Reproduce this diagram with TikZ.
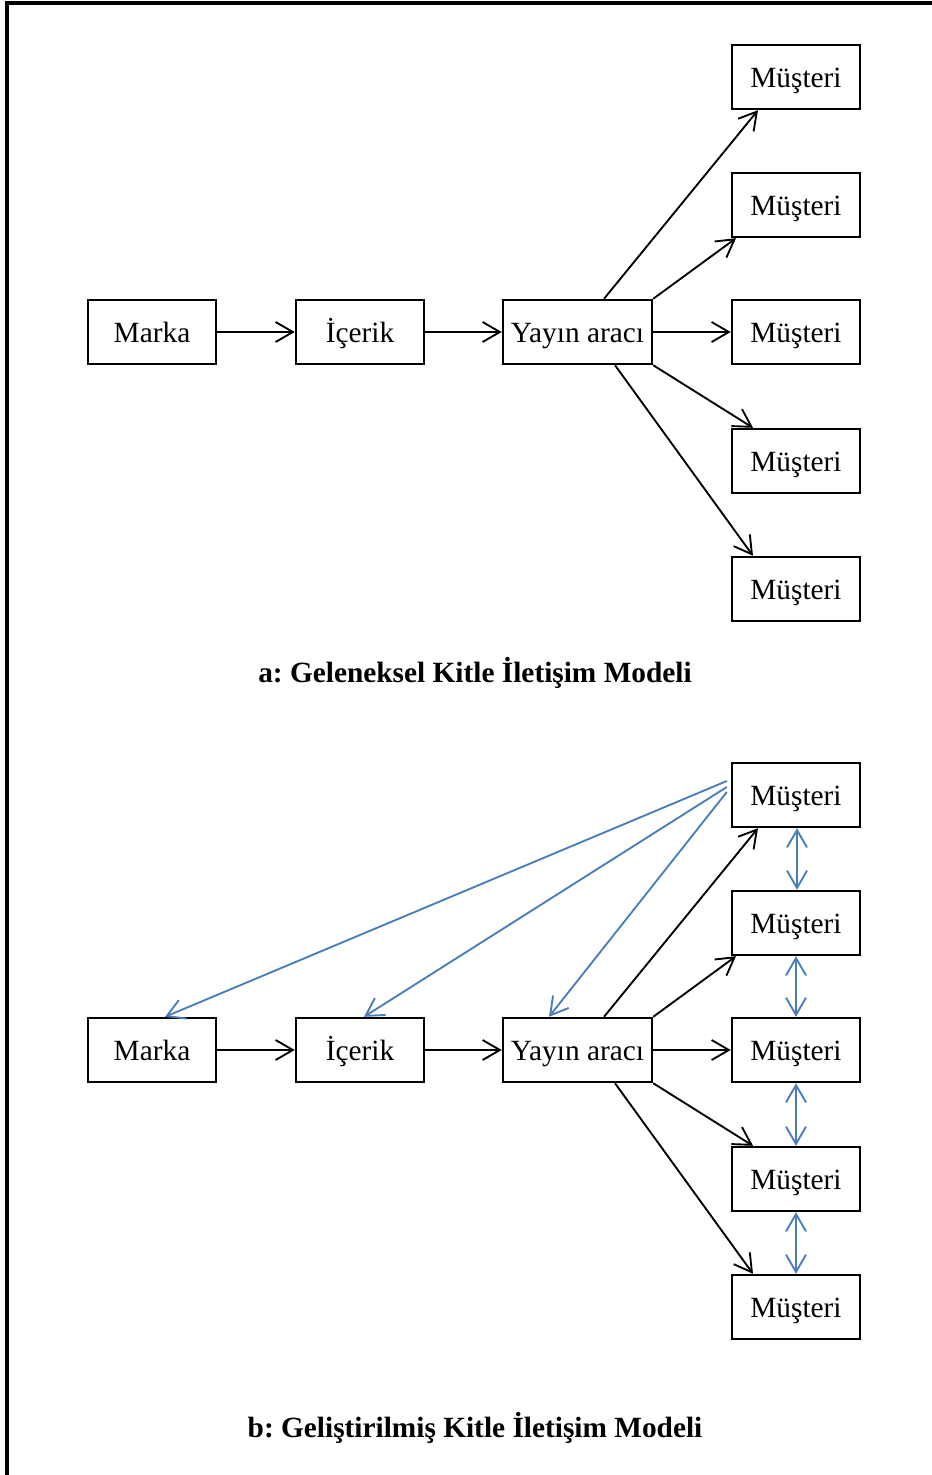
\documentclass[tikz,border=0pt]{standalone}
\usepackage{fontspec}
\setmainfont{Liberation Serif}
\usetikzlibrary{arrows.meta,calc}
\definecolor{linkblue}{RGB}{74,126,187}
\frenchspacing
\begin{document}
\begin{tikzpicture}[x=0.75pt,y=-0.75pt,
  box/.style={draw,line width=1.8pt,minimum width=96pt,minimum height=48pt,inner sep=0pt,
    text height=15pt,text depth=0pt,font=\fontsize{22}{26}\selectfont},
  wide/.style={box,minimum width=111.75pt},
  flow/.style={line width=1.4pt,-{Straight Barb[length=13pt,width=15pt,line width=1.4pt]}},
  back/.style={flow,draw=linkblue,line width=1.4pt},
  both/.style={line width=1.4pt,draw=linkblue,
    {Straight Barb[length=13pt,width=15pt,line width=1.4pt]}-{Straight Barb[length=13pt,width=15pt,line width=1.4pt]}},
  caption/.style={font=\fontsize{22}{26}\selectfont\bfseries}]
\useasboundingbox (0,0) rectangle (932,1475);
% frame
\draw[line width=2.4pt] (7,1475) -- (7,3) -- (932,3);

% (a) traditional model
\node[box]  (ma) at (152,332) {Marka};
\node[box]  (ia) at (360,332) {İçerik};
\node[wide] (ya) at (577.5,332) {Yayın aracı};
\node[box]  (a1) at (796,77)  {Müşteri};
\node[box]  (a2) at (796,205) {Müşteri};
\node[box]  (a3) at (796,332) {Müşteri};
\node[box]  (a4) at (796,461) {Müşteri};
\node[box]  (a5) at (796,589) {Müşteri};
\draw[flow] (ma) -- (ia);
\draw[flow] (ia) -- (ya);
\draw[flow] (ya.east) -- (a3.west);
\draw[flow] ($(ya.north)+(26.5,0)$) -- ($(a1.south)+(-38,0)$);
\draw[flow] (ya.north east) -- ($(a2.south)+(-60,0)$);
\draw[flow] (ya.south east) -- ($(a4.north)+(-43,0)$);
\draw[flow] ($(ya.south)+(37.5,0)$) -- ($(a5.north)+(-43,0)$);
\node[caption] (capa) at (475,673) {a: Geleneksel Kitle İletişim Modeli};

% (b) extended model
\node[box]  (mb) at (152,1050) {Marka};
\node[box]  (ib) at (360,1050) {İçerik};
\node[wide] (yb) at (577.5,1050) {Yayın aracı};
\node[box]  (b1) at (796,795)  {Müşteri};
\node[box]  (b2) at (796,923)  {Müşteri};
\node[box]  (b3) at (796,1050) {Müşteri};
\node[box]  (b4) at (796,1179) {Müşteri};
\node[box]  (b5) at (796,1307) {Müşteri};
\draw[flow] (mb) -- (ib);
\draw[flow] (ib) -- (yb);
\draw[flow] (yb.east) -- (b3.west);
\draw[flow] ($(yb.north)+(26.5,0)$) -- ($(b1.south)+(-38,0)$);
\draw[flow] (yb.north east) -- ($(b2.south)+(-60,0)$);
\draw[flow] (yb.south east) -- ($(b4.north)+(-43,0)$);
\draw[flow] ($(yb.south)+(37.5,0)$) -- ($(b5.north)+(-43,0)$);
% feedback from the customer
\draw[back] ($(b1.west)+(-4,-14)$) -- ($(mb.north)+(13,0)$);
\draw[back] ($(b1.west)+(-4,-8)$) -- ($(ib.north)+(4,0)$);
\draw[back] ($(b1.west)+(-4,-3)$) -- ($(yb.north)+(-28.5,0)$);
% customer to customer
\draw[both] ($(b1.south)+(1,0)$) -- ($(b2.north)+(1,0)$);
\draw[both] (b2.south) -- (b3.north);
\draw[both] (b3.south) -- (b4.north);
\draw[both] (b4.south) -- (b5.north);
\node[caption] (capb) at (475,1428) {b: Geliştirilmiş Kitle İletişim Modeli};
\end{tikzpicture}
\end{document}
